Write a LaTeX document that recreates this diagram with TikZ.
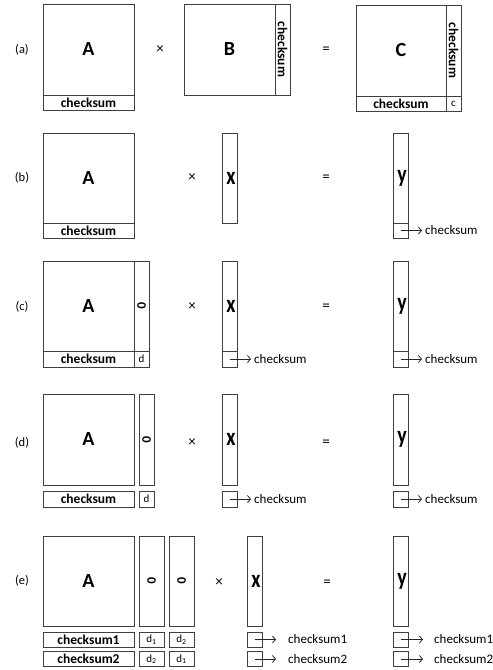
\documentclass[tikz,border=0pt]{standalone}
\usepackage{fontspec}
\setmainfont{Carlito}
\usepackage{graphicx}
\usetikzlibrary{positioning,arrows.meta}

\newcommand{\veclet}[1]{\hspace{3pt}\scalebox{1}[1.25]{#1}}
\newcommand{\zeroglyph}{\fontsize{13}{13}\selectfont\bfseries\rotatebox{-90}{0}}

\begin{document}
\begin{tikzpicture}[x=1pt, y=-1pt,
    cell/.style={draw=black!75, line width=0.9pt, inner sep=0pt, outer sep=0pt, font=\fontsize{20}{20}\selectfont\bfseries},
    sq/.style={cell, minimum width=91pt, minimum height=91pt},
    vec/.style={cell, minimum width=15pt, minimum height=90pt},
    strip/.style={cell, minimum height=15pt, font=\fontsize{13.5}{13.5}\selectfont\bfseries},
    small/.style={cell, minimum width=15pt, minimum height=15pt, font=\fontsize{11}{11}\selectfont},
    tag/.style={font=\fontsize{12.5}{12.5}\selectfont},
    op/.style={font=\fontsize{15}{15}\selectfont},
    note/.style={anchor=west, inner sep=0pt, font=\fontsize{13}{13}\selectfont},
    ptr/.style={-{Straight Barb[length=3pt,width=7pt]}, black!85, line width=0.8pt}
  ]
    \useasboundingbox (0,0) rectangle (493,670);

    % (a)
    \node[tag] (taga) at (22,50) {(a)};
    \node[sq] (aA) at (88.5,49.5) {A};
    \node[strip, minimum width=91pt] (aAcs) at (88.5,102.5) {checksum};
    \node[op] (atimes) at (160,50) {×};
    \node[sq] (aB) at (229.5,49.5) {B};
    \node[strip, minimum width=15pt, minimum height=91pt] (aBcs) at (282.5,49.5) {\rotatebox{-90}{checksum}};
    \node[op] (aeq) at (326,50) {=};
    \node[sq, minimum width=90pt] (aC) at (401,50.5) {C};
    \node[strip, minimum width=15pt, minimum height=91pt] (aCcol) at (453.5,50.5) {\rotatebox{-90}{checksum}};
    \node[strip, minimum width=90pt] (aCrow) at (401,103.5) {checksum};
    \node[small] (aCc) at (453.5,103.5) {c};

    % (b)
    \node[tag] (tagb) at (22,178) {(b)};
    \node[sq, minimum height=90pt] (bA) at (88.5,178) {A};
    \node[strip, minimum width=91pt] (bAcs) at (88.5,230.5) {checksum};
    \node[op] (btimes) at (192,178) {×};
    \node[vec] (bx) at (229.5,178) {\veclet{x}};
    \node[op] (beq) at (326,178) {=};
    \node[vec] (by) at (400.5,178) {\veclet{y}};
    \node[small] (bys) at (400.5,230.5) {};
    \node[note] (byn) at (425,230.5) {checksum};
    \draw[ptr, shorten >=3pt] (bys.center) -- (byn.west);

    % (c)
    \node[tag] (tagc) at (22,307) {(c)};
    \node[sq, minimum height=90pt] (cA) at (88.5,306) {A};
    \node[vec] (c0) at (141.5,306) {\zeroglyph};
    \node[strip, minimum width=91pt, minimum height=16pt] (cAcs) at (88.5,359) {checksum};
    \node[small, minimum height=16pt] (cd) at (141.5,359) {d};
    \node[op] (ctimes) at (192,307) {×};
    \node[vec] (cx) at (229.5,306) {\veclet{x}};
    \node[small, minimum height=16pt] (cxs) at (229.5,359) {};
    \node[note] (cxn) at (254,359) {checksum};
    \node[op] (ceq) at (326,307) {=};
    \node[vec] (cy) at (400.5,306) {\veclet{y}};
    \node[small, minimum height=16pt] (cys) at (400.5,359) {};
    \node[note] (cyn) at (425,359) {checksum};
    \draw[ptr, shorten >=3pt] (cxs.center) -- (cxn.west);
    \draw[ptr, shorten >=3pt] (cys.center) -- (cyn.west);

    % (d)
    \node[tag] (tagd) at (22,443) {(d)};
    \node[sq] (dA) at (88.5,439.5) {A};
    \node[vec, minimum height=91pt] (d0) at (146.5,439.5) {\zeroglyph};
    \node[strip, minimum width=91pt, minimum height=16pt] (dAcs) at (88.5,499) {checksum};
    \node[small, minimum height=16pt] (dd) at (146.5,499) {d};
    \node[op] (dtimes) at (192,443) {×};
    \node[vec, minimum height=91pt] (dx) at (229.5,439.5) {\veclet{x}};
    \node[small, minimum height=16pt] (dxs) at (229.5,499) {};
    \node[note] (dxn) at (254,499) {checksum};
    \node[op] (deq) at (326,443) {=};
    \node[vec, minimum height=91pt] (dy) at (400.5,439.5) {\veclet{y}};
    \node[small, minimum height=16pt] (dys) at (400.5,499) {};
    \node[note] (dyn) at (425,499) {checksum};
    \draw[ptr, shorten >=3pt] (dxs.center) -- (dxn.west);
    \draw[ptr, shorten >=3pt] (dys.center) -- (dyn.west);

    % (e)
    \node[tag] (tage) at (22,581) {(e)};
    \node[sq, minimum height=90pt] (eA) at (88.5,581) {A};
    \node[vec, minimum width=25pt] (e0a) at (151.5,581) {\zeroglyph};
    \node[vec, minimum width=25pt] (e0b) at (181.5,581) {\zeroglyph};
    \node[strip, minimum width=91pt] (eAcs1) at (88.5,639.5) {checksum1};
    \node[small, minimum width=25pt] (ed11) at (151.5,639.5) {d\textsubscript{1}};
    \node[small, minimum width=25pt] (ed12) at (181.5,639.5) {d\textsubscript{2}};
    \node[strip, minimum width=91pt] (eAcs2) at (88.5,659) {checksum2};
    \node[small, minimum width=25pt] (ed21) at (151.5,659) {d\textsubscript{2}};
    \node[small, minimum width=25pt] (ed22) at (181.5,659) {d\textsubscript{1}};
    \node[op] (etimes) at (219,583) {×};
    \node[vec] (ex) at (254.5,581) {\veclet{x}};
    \node[small] (exs1) at (254.5,639.5) {};
    \node[small] (exs2) at (254.5,659) {};
    \node[note] (exn1) at (288,639.5) {checksum1};
    \node[note] (exn2) at (288,659) {checksum2};
    \node[op] (eeq) at (327,583) {=};
    \node[vec] (ey) at (400.5,581) {\veclet{y}};
    \node[small] (eys1) at (400.5,639.5) {};
    \node[small] (eys2) at (400.5,659) {};
    \node[note] (eyn1) at (434,639.5) {checksum1};
    \node[note] (eyn2) at (434,659) {checksum2};
    \draw[ptr, shorten >=12pt] (exs1.center) -- (exn1.west);
    \draw[ptr, shorten >=12pt] (exs2.center) -- (exn2.west);
    \draw[ptr, shorten >=11pt] (eys1.center) -- (eyn1.west);
    \draw[ptr, shorten >=11pt] (eys2.center) -- (eyn2.west);
  \end{tikzpicture}
\end{document}
